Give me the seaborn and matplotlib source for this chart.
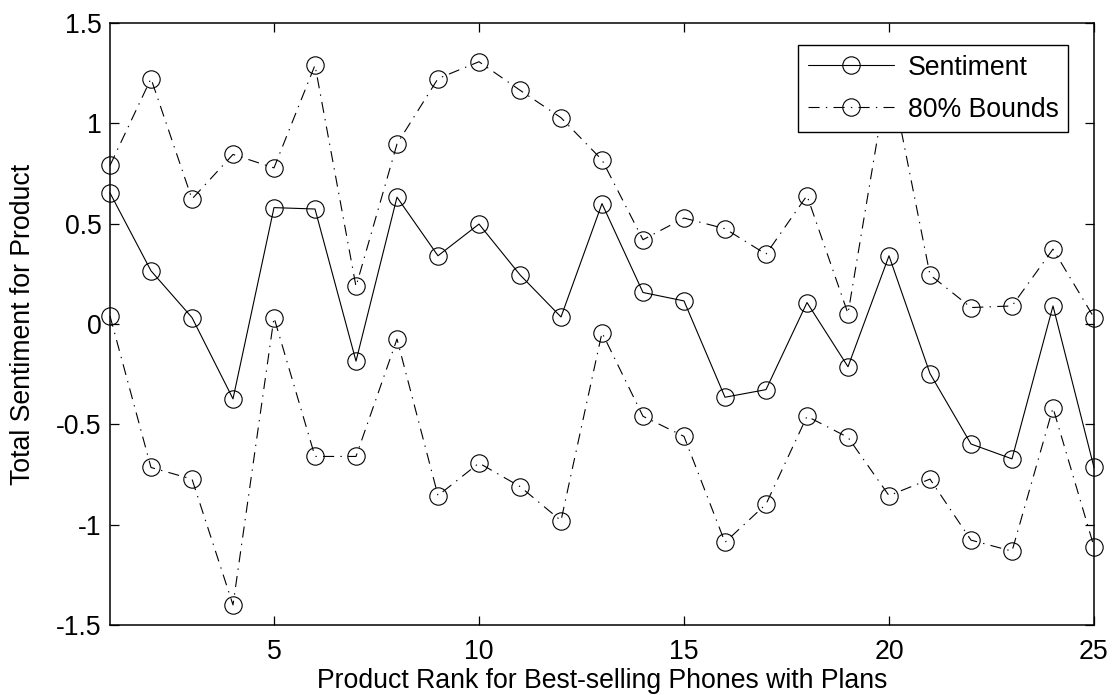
import matplotlib
matplotlib.use("Agg")
import matplotlib.pyplot as plt
from matplotlib.ticker import FuncFormatter
import seaborn as sns

# Product rank (x) and the per-product sentiment with its 80% bounds
rank = list(range(1, 26))
sentiment = [0.653, 0.265, 0.032, -0.373, 0.580, 0.573, -0.185, 0.632, 0.340, 0.498,
             0.245, 0.035, 0.600, 0.157, 0.115, -0.365, -0.327, 0.107, -0.213, 0.340,
             -0.247, -0.598, -0.672, 0.090, -0.715]
upper_bound = [0.790, 1.223, 0.623, 0.845, 0.778, 1.290, 0.187, 0.897, 1.223, 1.307,
               1.165, 1.028, 0.818, 0.420, 0.528, 0.475, 0.348, 0.640, 0.052, 1.270,
               0.245, 0.082, 0.090, 0.373, 0.032]
lower_bound = [0.040, -0.715, -0.773, -1.400, 0.032, -0.660, -0.660, -0.075, -0.855, -0.693,
               -0.810, -0.980, -0.043, -0.460, -0.560, -1.088, -0.898, -0.460, -0.565, -0.855,
               -0.773, -1.077, -1.132, -0.418, -1.110]

x_ticks = [5, 10, 15, 20, 25]
y_ticks = [-1.5, -1.0, -0.5, 0.0, 0.5, 1.0, 1.5]
series_labels = ["Sentiment", "80% Bounds"]
x_label = "Product Rank for Best-selling Phones with Plans"
y_label = "Total Sentiment for Product"

sns.set_theme(style="white")
plt.rcParams["font.family"] = ["Liberation Sans", "DejaVu Sans"]
plt.rcParams["axes.unicode_minus"] = False
plt.rcParams["lines.scale_dashes"] = False
FS = 19.2

fig = plt.figure(figsize=(11.18, 6.95), dpi=100)
fig.patch.set_facecolor("white")
W, H = 1118, 695
left, right, top, bottom = 110, 1094, 23, 625
ax = fig.add_axes([left / W, 1 - bottom / H, (right - left) / W, (bottom - top) / H])
ax.set_facecolor("white")

line_kw = dict(color="black", marker="o", markersize=12.5, markerfacecolor="none",
               markeredgecolor="black", markeredgewidth=0.8, linewidth=0.8,
               clip_on=False)
dashdot = (0, (8, 4.5, 1, 4.5))

sns.lineplot(x=rank, y=sentiment, ax=ax, linestyle="-", legend=False, **line_kw)
sns.lineplot(x=rank, y=upper_bound, ax=ax, linestyle=dashdot, legend=False, **line_kw)
sns.lineplot(x=rank, y=lower_bound, ax=ax, linestyle=dashdot, legend=False, **line_kw)

ax.set_xlim(1, 25)
ax.set_ylim(-1.5, 1.5)
ax.set_xticks(x_ticks)
ax.set_yticks(y_ticks)
ax.yaxis.set_major_formatter(FuncFormatter(lambda v, p: f"{v:g}"))
ax.tick_params(direction="in", length=6.5, width=0.9, labelsize=FS, colors="black",
               top=True, right=True, bottom=True, left=True)
ax.tick_params(axis="x", pad=10)
ax.tick_params(axis="y", pad=6)
for sp in ax.spines.values():
    sp.set_visible(True)
    sp.set_color("black")
    sp.set_linewidth(1.1)

ax.set_xlabel(x_label, fontsize=FS, color="black")
ax.set_ylabel(y_label, fontsize=FS, color="black")
ax.xaxis.set_label_coords(0.5, -0.072)
ax.yaxis.set_label_coords(-0.075, 0.5)

lines = ax.get_lines()
leg = ax.legend(handles=[lines[0], lines[1]], labels=series_labels,
                loc="upper right", bbox_to_anchor=((1068 - left) / (right - left),
                                                   1 - (45 - top) / (bottom - top)),
                borderaxespad=0, fontsize=FS, frameon=True, fancybox=False,
                framealpha=1, edgecolor="black", handlelength=3.25,
                handletextpad=0.5, borderpad=0.36, labelspacing=0.6, numpoints=1)
leg.get_frame().set_linewidth(1.0)
for t in leg.get_texts():
    t.set_color("black")

fig.savefig("out.png", dpi=100, facecolor="white")
